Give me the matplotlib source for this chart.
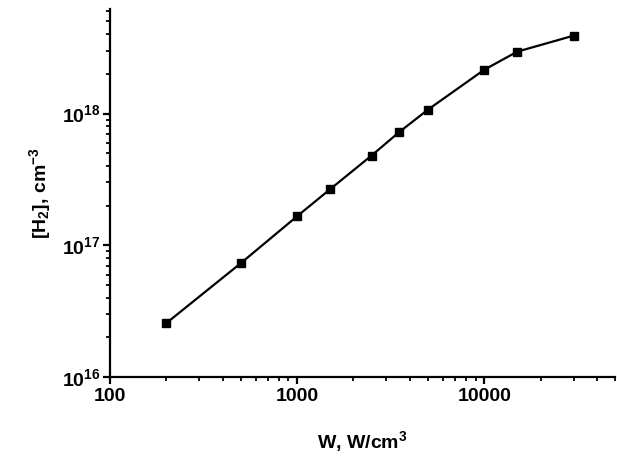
import matplotlib
matplotlib.use("Agg")
import matplotlib.pyplot as plt
from matplotlib.ticker import FixedLocator, FixedFormatter, LogLocator, NullFormatter

plt.rcParams['font.family'] = ['Liberation Sans', 'DejaVu Sans']
plt.rcParams['font.weight'] = 'bold'
plt.rcParams['mathtext.fontset'] = 'custom'
plt.rcParams['mathtext.rm'] = 'Liberation Sans:bold'
plt.rcParams['mathtext.it'] = 'Liberation Sans:bold'
plt.rcParams['mathtext.bf'] = 'Liberation Sans:bold'
plt.rcParams['mathtext.default'] = 'bf'

# data
power = [200, 500, 1000, 1500, 2500, 3500, 5000, 10000, 15000, 30000]
h2 = [2.56e16, 7.3e16, 1.66e17, 2.66e17, 4.8e17, 7.2e17, 1.07e18, 2.15e18, 2.95e18, 3.9e18]

x_ticks = [100, 1000, 10000]
x_labels = ['100', '1000', '10000']
y_ticks = [1e16, 1e17, 1e18]
y_labels = [r'$10^{16}$', r'$10^{17}$', r'$10^{18}$']

fig = plt.figure(figsize=(6.17, 4.57), dpi=100)
ax = fig.add_axes([0.178, 0.175, 0.819, 0.805])

ax.plot(power, h2, color='black', lw=1.6, marker='s', ms=6)

ax.set_xscale('log')
ax.set_yscale('log')
ax.set_xlim(100, 50000)
ax.set_ylim(1e16, 6.2e18)

ax.xaxis.set_major_locator(FixedLocator(x_ticks))
ax.xaxis.set_major_formatter(FixedFormatter(x_labels))
ax.yaxis.set_major_locator(FixedLocator(y_ticks))
ax.yaxis.set_major_formatter(FixedFormatter(y_labels))
ax.xaxis.set_minor_locator(LogLocator(base=10, subs=range(2, 10)))
ax.yaxis.set_minor_locator(LogLocator(base=10, subs=range(2, 10)))
ax.xaxis.set_minor_formatter(NullFormatter())
ax.yaxis.set_minor_formatter(NullFormatter())

for s in ['top', 'right']:
    ax.spines[s].set_visible(False)
for s in ['left', 'bottom']:
    ax.spines[s].set_linewidth(1.6)

ax.tick_params(axis='x', which='major', direction='out', length=5, width=1.6, labelsize=14, pad=3)
ax.tick_params(axis='y', which='major', direction='out', length=5, width=1.6, labelsize=14, pad=2)
ax.tick_params(which='minor', direction='out', length=3, width=1.3)

ax.set_xlabel(r'W, W/cm$^3$', fontsize=14, fontweight='bold', labelpad=17)
ax.set_ylabel(r'[H$_2$], cm$^{-3}$', fontsize=14, fontweight='bold', labelpad=6)

fig.savefig('out.png', dpi=100)
